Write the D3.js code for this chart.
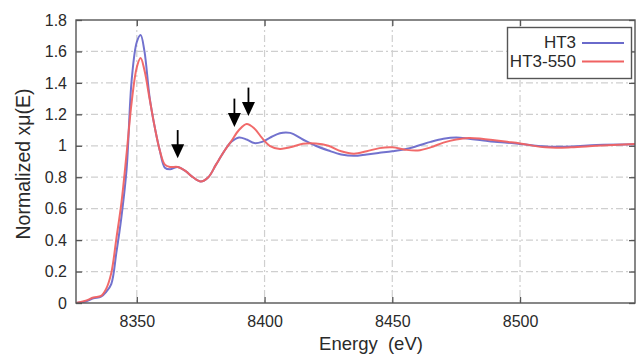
<!DOCTYPE html>
<html lang="en">
<head>
  <meta charset="UTF-8" />
  <title>XANES HT3</title>
  <script src="https://d3js.org/d3.v7.min.js"></script>
  <style>
    html, body { margin: 0; padding: 0; background: #fff; }
    svg { display: block; font-family: "Liberation Sans", Arial, sans-serif; }
  </style>
</head>
<body>
  <svg id="chart" width="643" height="355"></svg>
  <script>
    // ---------------------------------------------------------
    // Data
    // ---------------------------------------------------------
    const energy = [8326, 8330, 8333, 8336, 8338, 8340, 8342, 8344, 8346, 8348,
      8350, 8351.5, 8353, 8355, 8357, 8359, 8361, 8363, 8366, 8369,
      8372, 8375, 8378, 8381, 8384, 8387, 8390, 8393, 8396, 8399,
      8402, 8406, 8410, 8415, 8420, 8425, 8430, 8435, 8440, 8445,
      8450, 8455, 8460, 8465, 8470, 8475, 8480, 8485, 8490, 8495,
      8500, 8510, 8520, 8530, 8545];

    const ht3 = [0.0, 0.01, 0.03, 0.04, 0.07, 0.12, 0.32, 0.55, 0.85, 1.42,
      1.66, 1.705, 1.60, 1.31, 1.12, 0.97, 0.86, 0.85, 0.865, 0.84,
      0.80, 0.773, 0.80, 0.88, 0.96, 1.025, 1.053, 1.04, 1.017, 1.025,
      1.05, 1.08, 1.082, 1.04, 1.0, 0.97, 0.945, 0.936, 0.945, 0.955,
      0.965, 0.978, 1.0, 1.025, 1.045, 1.053, 1.045, 1.035, 1.025, 1.02,
      1.012, 0.995, 0.995, 1.005, 1.01];

    const ht3_550 = [0.0, 0.015, 0.035, 0.045, 0.09, 0.19, 0.41, 0.64, 0.95, 1.28,
      1.50, 1.558, 1.48, 1.30, 1.12, 0.97, 0.88, 0.865, 0.865, 0.84,
      0.80, 0.773, 0.80, 0.88, 0.96, 1.03, 1.10, 1.138, 1.11, 1.05,
      1.0, 0.98, 0.99, 1.013, 1.015, 1.0, 0.965, 0.95, 0.965, 0.985,
      0.99, 0.975, 0.97, 0.99, 1.02, 1.04, 1.05, 1.045, 1.035, 1.025,
      1.015, 0.99, 0.99, 1.0, 1.012];

    const seriesNames = ["HT3", "HT3-550"];
    const seriesColors = ["#6a6acb", "#f06262"];

    const xTicks = [8350, 8400, 8450, 8500];
    const yTicks = [0, 0.2, 0.4, 0.6, 0.8, 1, 1.2, 1.4, 1.6, 1.8];

    // arrows marking features: energy, top and tip of arrow (in data units)
    const arrowE = [8366, 8388.2, 8393.7];
    const arrowTop = [1.10, 1.30, 1.37];
    const arrowTip = [0.92, 1.12, 1.19];

    // ---------------------------------------------------------
    // Layout
    // ---------------------------------------------------------
    const svg = d3.select("#chart");
    const margin = { left: 76, right: 8, top: 20, bottom: 52 };
    const W = 643, H = 355;
    const innerW = W - margin.left - margin.right;
    const innerH = H - margin.top - margin.bottom;
    const textColor = "#2a2a2a";

    const x = d3.scaleLinear().domain([8326.2, 8545]).range([0, innerW]);
    const y = d3.scaleLinear().domain([0, 1.8]).range([innerH, 0]);

    const g = svg.append("g").attr("transform", `translate(${margin.left},${margin.top})`);

    // grid lines
    const gridDash = "7,3,2,3";
    g.append("g").selectAll("line").data(xTicks).join("line")
      .attr("x1", d => x(d)).attr("x2", d => x(d))
      .attr("y1", 0).attr("y2", innerH)
      .attr("stroke", "#cfcfcf").attr("stroke-width", 1.2)
      .attr("stroke-dasharray", gridDash);
    g.append("g").selectAll("line").data(yTicks.filter(d => d > 0 && d < 1.8)).join("line")
      .attr("x1", 0).attr("x2", innerW)
      .attr("y1", d => y(d)).attr("y2", d => y(d))
      .attr("stroke", "#cfcfcf").attr("stroke-width", 1.2)
      .attr("stroke-dasharray", gridDash);

    // axes (ticks pointing inward on all four sides)
    const tickLen = 6;
    const styleAxis = sel => {
      sel.select(".domain").remove();
      sel.selectAll(".tick line").attr("stroke", "#555").attr("stroke-width", 1.3);
      sel.selectAll(".tick text").attr("fill", textColor).attr("font-size", 16);
    };

    g.append("g").attr("transform", `translate(0,${innerH})`)
      .call(d3.axisBottom(x).tickValues(xTicks).tickFormat(d3.format("d"))
        .tickSizeInner(-tickLen).tickSizeOuter(0).tickPadding(13))
      .call(styleAxis);
    g.append("g")
      .call(d3.axisTop(x).tickValues(xTicks).tickFormat("")
        .tickSizeInner(-tickLen).tickSizeOuter(0))
      .call(styleAxis);
    g.append("g")
      .call(d3.axisLeft(y).tickValues(yTicks).tickFormat(d => d3.format("~g")(d))
        .tickSizeInner(-tickLen).tickSizeOuter(0).tickPadding(9))
      .call(styleAxis);
    g.append("g").attr("transform", `translate(${innerW},0)`)
      .call(d3.axisRight(y).tickValues(yTicks).tickFormat("")
        .tickSizeInner(-tickLen).tickSizeOuter(0))
      .call(styleAxis);

    // curves
    g.append("clipPath").attr("id", "plotClip")
      .append("rect").attr("width", innerW).attr("height", innerH);

    const line = d3.line()
      .x(d => x(d[0]))
      .y(d => y(d[1]))
      .curve(d3.curveCatmullRom.alpha(0.5));

    [ht3, ht3_550].forEach((vals, i) => {
      g.append("path")
        .datum(energy.map((e, k) => [e, vals[k]]))
        .attr("clip-path", "url(#plotClip)")
        .attr("fill", "none")
        .attr("stroke", seriesColors[i])
        .attr("stroke-width", 2)
        .attr("stroke-opacity", 0.95)
        .attr("d", line);
    });

    // frame
    g.append("rect").attr("width", innerW).attr("height", innerH)
      .attr("fill", "none").attr("stroke", "#555").attr("stroke-width", 1.4);

    // arrows
    arrowE.forEach((e, i) => {
      const ax = x(e), y0 = y(arrowTop[i]), y1 = y(arrowTip[i]);
      g.append("line").attr("x1", ax).attr("x2", ax)
        .attr("y1", y0).attr("y2", y1 - 8)
        .attr("stroke", "#000").attr("stroke-width", 1.8);
      g.append("path")
        .attr("d", `M${ax - 6.5},${y1 - 14} L${ax + 6.5},${y1 - 14} L${ax},${y1} Z`)
        .attr("fill", "#000");
    });

    // legend
    const leg = svg.append("g");
    leg.append("rect").attr("x", 507.5).attr("y", 27.5).attr("width", 124).attr("height", 51)
      .attr("fill", "#fff").attr("stroke", "#555").attr("stroke-width", 1.4);
    seriesNames.forEach((name, i) => {
      const ly = 43 + i * 18.5;
      leg.append("text").attr("x", 576).attr("y", ly + 5)
        .attr("text-anchor", "end").attr("font-size", 17).attr("fill", textColor)
        .text(name);
      leg.append("line").attr("x1", 582).attr("x2", 624)
        .attr("y1", ly).attr("y2", ly)
        .attr("stroke", seriesColors[i]).attr("stroke-width", 2);
    });

    // axis titles
    svg.append("text")
      .attr("x", 371).attr("y", 350)
      .attr("text-anchor", "middle").attr("font-size", 18.5).attr("fill", textColor)
      .attr("xml:space", "preserve").style("white-space", "pre")
      .text("Energy  (eV)");
    svg.append("text")
      .attr("transform", "translate(30,164) rotate(-90)")
      .attr("text-anchor", "middle").attr("font-size", 19.5).attr("fill", textColor)
      .text("Normalized xμ(E)");
  </script>
</body>
</html>
